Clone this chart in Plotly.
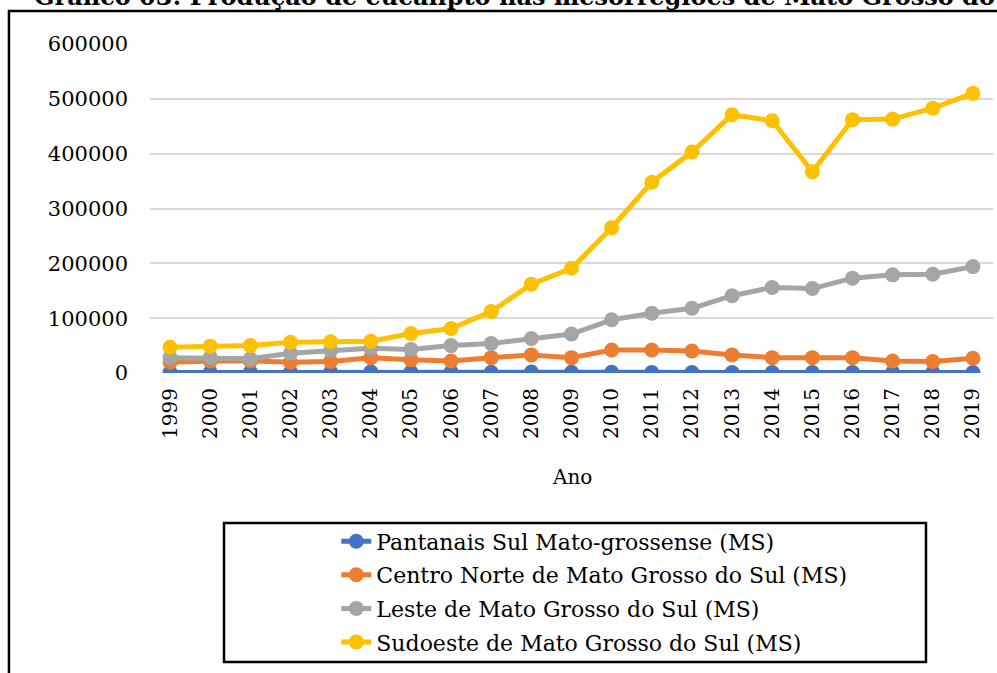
import plotly.graph_objects as go

years = [str(y) for y in range(1999, 2020)]

pantanais = [1000, 1200, 1800, 1500, 1800, 2000, 1800, 1600, 1500, 1700, 1200,
             1300, 1100, 900, 900, 1000, 1000, 1100, 900, 800, 900]
centro_norte = [19500, 22000, 22000, 19500, 21000, 28000, 24000, 22000, 28000, 33000, 28000,
                42000, 42000, 40000, 33000, 28000, 28000, 28000, 22000, 21000, 27000]
leste = [28000, 28000, 26000, 36000, 41000, 45000, 43000, 50000, 54000, 63000, 71000,
         97000, 109000, 118000, 141000, 156000, 154000, 173000, 179000, 180000, 194000]
sudoeste = [47000, 49000, 50000, 56000, 57000, 58000, 72000, 81000, 112000, 162000, 191000,
            265000, 348000, 403000, 471000, 460000, 367000, 462000, 463000, 483000, 510000]

series = [
    ("Pantanais Sul Mato-grossense (MS)", pantanais, "#4472C4"),
    ("Centro Norte de Mato Grosso do Sul (MS)", centro_norte, "#ED7D31"),
    ("Leste de Mato Grosso do Sul (MS)", leste, "#A5A5A5"),
    ("Sudoeste de Mato Grosso do Sul (MS)", sudoeste, "#FFC000"),
]

FONT = "DejaVu Serif"

fig = go.Figure()
for i, (name, vals, color) in enumerate(series):
    fig.add_trace(go.Scatter(
        x=years, y=vals, name=name, mode="lines+markers",
        line=dict(color=color, width=5),
        marker=dict(color=color, size=15),
        legendgroup=f"g{i}",
    ))

fig.update_layout(
    width=997, height=673,
    margin=dict(l=150, r=4, t=44, b=300, autoexpand=False),
    paper_bgcolor="white", plot_bgcolor="white",
    font=dict(family=FONT, size=20, color="#000000"),
    showlegend=True,
    legend=dict(
        x=0.221, y=-0.448, xanchor="left", yanchor="top",
        bgcolor="rgba(0,0,0,0)", borderwidth=0,
        font=dict(family=FONT, size=22, color="#000000"),
        tracegroupgap=2,
    ),
    xaxis=dict(
        type="category", range=[-0.5, 20.5], tickangle=-90,
        showgrid=False, showline=False, ticks="", ticklabelstandoff=10,
        tickfont=dict(family=FONT, size=20), automargin=False,
    ),
    yaxis=dict(
        range=[0, 600000], dtick=100000, tickformat="d",
        gridcolor="#d9d9d9", gridwidth=1.5, zeroline=False,
        showline=False, ticks="", ticklabelstandoff=21,
        tickfont=dict(family=FONT, size=21), automargin=False,
    ),
    shapes=[
        # outer chart frame (right/bottom sides fall outside the crop)
        dict(type="rect", xref="paper", yref="paper",
             x0=-0.1673, x1=1.05, y0=-1.0, y1=1.1003,
             line=dict(color="black", width=2.5), layer="below"),
        # legend box, wider than the legend itself
        dict(type="rect", xref="paper", yref="paper",
             x0=0.0878, x1=0.9205, y0=-0.8784, y1=-0.4559,
             line=dict(color="black", width=2.5), layer="below"),
    ],
    annotations=[
        dict(text="<b>Gráfico 03: Produção de eucalipto nas mesorregiões de Mato Grosso do Sul</b>",
             xref="paper", yref="paper", x=-0.1395, y=1.095,
             xanchor="left", yanchor="bottom", showarrow=False,
             font=dict(family=FONT, size=24, color="#000000")),
        dict(text="Ano", xref="paper", yref="paper", x=0.5, y=-0.316,
             xanchor="center", yanchor="middle", showarrow=False,
             font=dict(family=FONT, size=20, color="#000000")),
    ],
)

fig.write_html("out.html", config={"displayModeBar": False},
               post_script="document.body.style.margin = '0';")
